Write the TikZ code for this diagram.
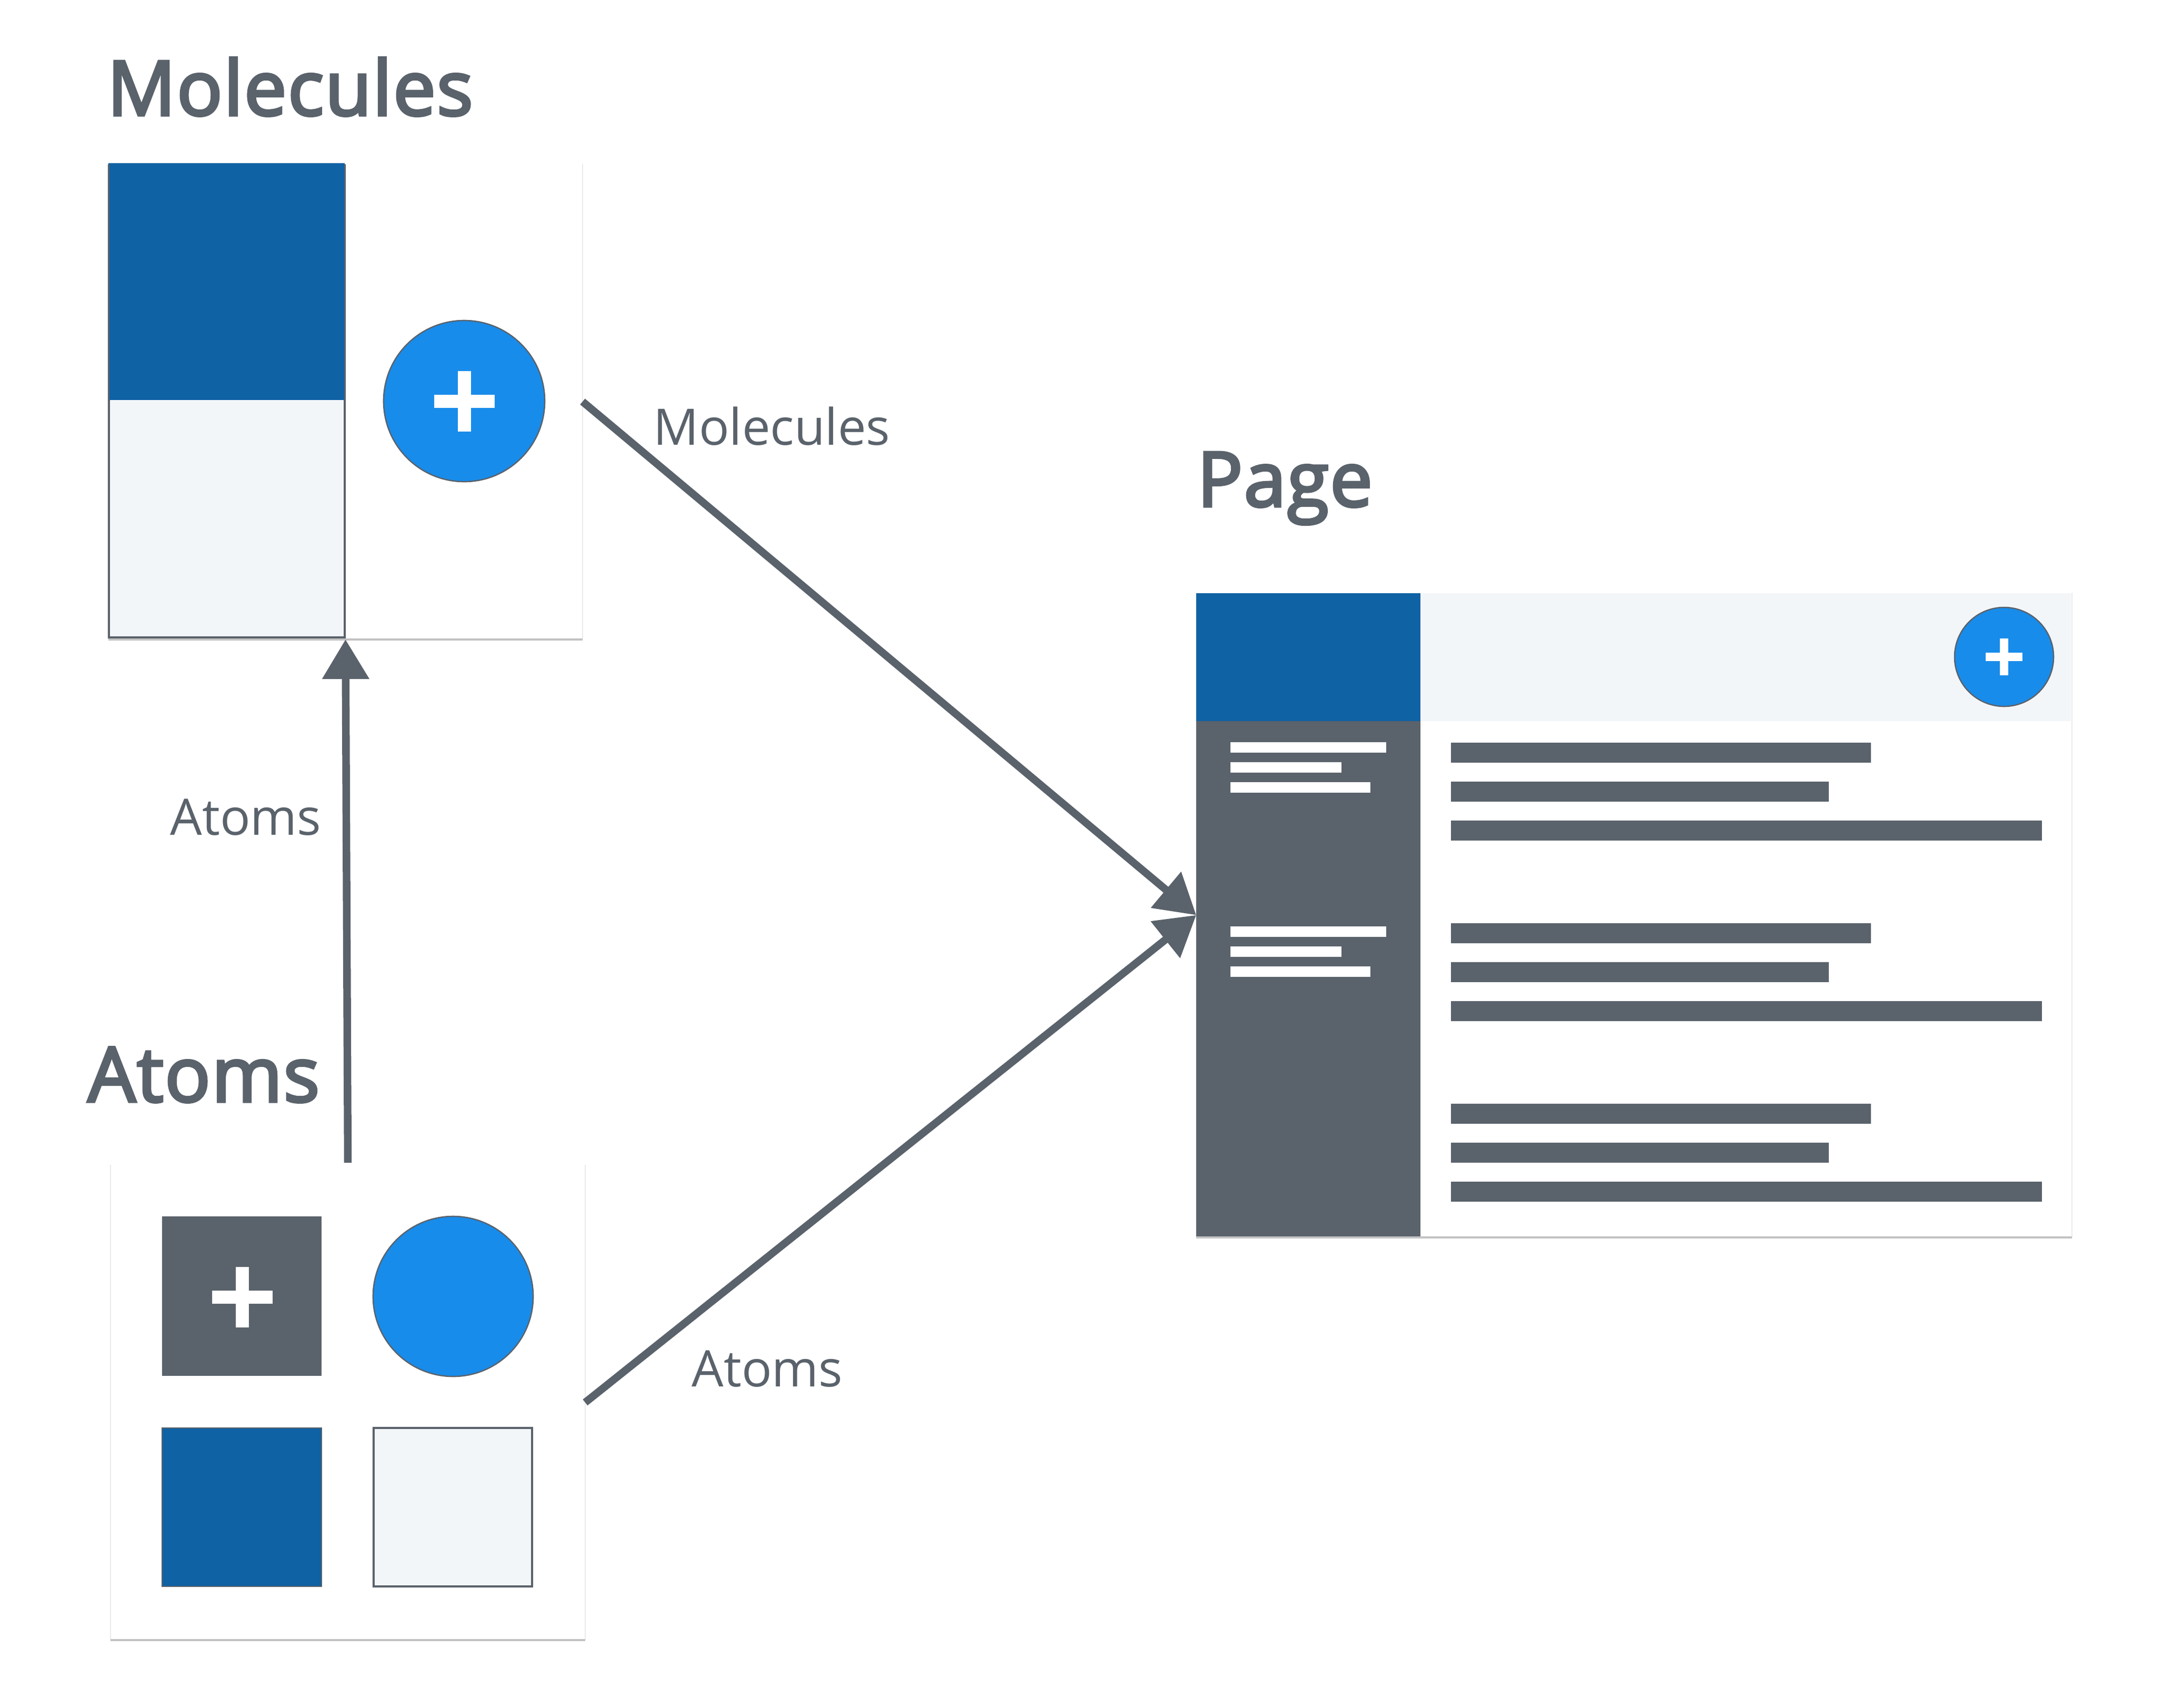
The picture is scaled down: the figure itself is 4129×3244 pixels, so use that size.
\documentclass[tikz,border=0pt]{standalone}
\usepackage{fontspec}
\usepackage{xcolor}
\usetikzlibrary{arrows.meta,positioning,calc}
\setmainfont{Open Sans}
\newfontfamily\headfont[FakeBold=3.5,LetterSpace=1.5]{Open Sans}
\definecolor{slate}{HTML}{5A626B}
\definecolor{navy}{HTML}{0F62A4}
\definecolor{azure}{HTML}{188CEA}
\definecolor{mist}{HTML}{F3F6F9}
\tikzset{
    card/.style={rectangle,fill=white,minimum width=#1,inner sep=0pt,anchor=north west},
    outlined/.style={draw=slate,line width=0.9pt},
    disc/.style={circle,fill=azure,draw=slate,line width=0.7pt,inner sep=0pt},
    title/.style={font=\headfont\fontsize{41}{41}\selectfont,text=slate,anchor=base west,inner sep=0pt},
    caption/.style={font=\fontsize{27.2}{27.2}\selectfont,text=slate,anchor=base west,inner sep=0pt},
    flow/.style={draw=slate,line width=4.1pt,-{Triangle[length=0.75cm,width=0.86cm]}},
    bar/.style={fill=slate},
    sidebar/.style={fill=white}
}
\newcommand{\plussign}[3]{% centre, arm length, arm thickness
    \fill[white] ($(#1)+(-#2,-#3)$) rectangle ($(#1)+(#2,#3)$);
    \fill[white] ($(#1)+(-#3,-#2)$) rectangle ($(#1)+(#3,#2)$);
}
\begin{document}
\begin{tikzpicture}[x=0.01cm,y=-0.01cm]
    \useasboundingbox (0,0) rectangle (4129,3244);
    % cards
    \node[card=8.99cm,minimum height=9.02cm] (molcard) at (206,311) {};
    \node[card=9cm,minimum height=9.01cm] (atomcard) at (210,2213) {};
    \node[card=16.62cm,minimum height=12.23cm] (pagecard) at (2273,1126) {};
    \foreach \c in {molcard,atomcard,pagecard} {
        \draw[black!8,line width=0.6pt] (\c.north west) -- (\c.south west) (\c.north east) -- (\c.south east);
        \draw[black!24,line width=1.2pt] (\c.south west) -- (\c.south east);
    }
    % molecule
    \fill[mist] (207,311) rectangle (655,1211);
    \fill[navy] (206,310) rectangle (655,760);
    \draw[outlined] (207,314) rectangle (655,1211);
    \fill[navy] (208,310) rectangle (654,760);
    \node[disc,minimum size=3.06cm] (molbutton) at (882,762) {};
    \plussign{molbutton.center}{57.5}{12.5}
    % atoms
    \fill[slate] (308,2311) rectangle (611,2614);
    \coordinate (atomplus) at (460,2464);
    \plussign{atomplus}{57.5}{12.5}
    \node[disc,minimum size=3.04cm] (atomcircle) at (861,2463) {};
    \fill[navy,draw=slate,line width=0.6pt] (308,2713) rectangle (611,3014);
    \fill[mist,outlined] (710,2713) rectangle (1011,3014);
    % page
    \fill[navy] (2273,1127) rectangle (2699,1370);
    \fill[slate] (2273,1370) rectangle (2699,2349);
    \fill[mist] (2699,1127) rectangle (3935,1370);
    \node[disc,minimum size=1.88cm] (pagebutton) at (3808,1248) {};
    \plussign{pagebutton.center}{35}{8}
    \foreach \y in {0,350} {
        \fill[sidebar] (2338,1410+\y) rectangle (2634,1430+\y);
        \fill[sidebar] (2338,1448+\y) rectangle (2549,1468+\y);
        \fill[sidebar] (2338,1486+\y) rectangle (2604,1506+\y);
    }
    \foreach \y in {0,343,686} {
        \fill[bar] (2757,1411+\y) rectangle (3555,1449+\y);
        \fill[bar] (2757,1485+\y) rectangle (3475,1523+\y);
        \fill[bar] (2757,1559+\y) rectangle (3880,1597+\y);
    }
    % connectors
    \draw[flow] (molcard.east) -- (pagecard.west);
    \draw[flow] (atomcard.east) -- (pagecard.west);
    \draw[flow,shorten <=0.04cm] (atomcard.north) -- (molcard.south);
    % texts
    \node[title] (moltitle) at (203,219) {Molecules};
    \node[title] (atomtitle) at (166,2093) {Atoms};
    \node[title] (pagetitle) at (2274,962) {Page};
    \node[caption] (mollabel) at (1241,845) {Molecules};
    \node[caption] (atomlabel) at (323,1586) {Atoms};
    \node[caption] (atomlabeltwo) at (1314,2634) {Atoms};
\end{tikzpicture}
\end{document}
